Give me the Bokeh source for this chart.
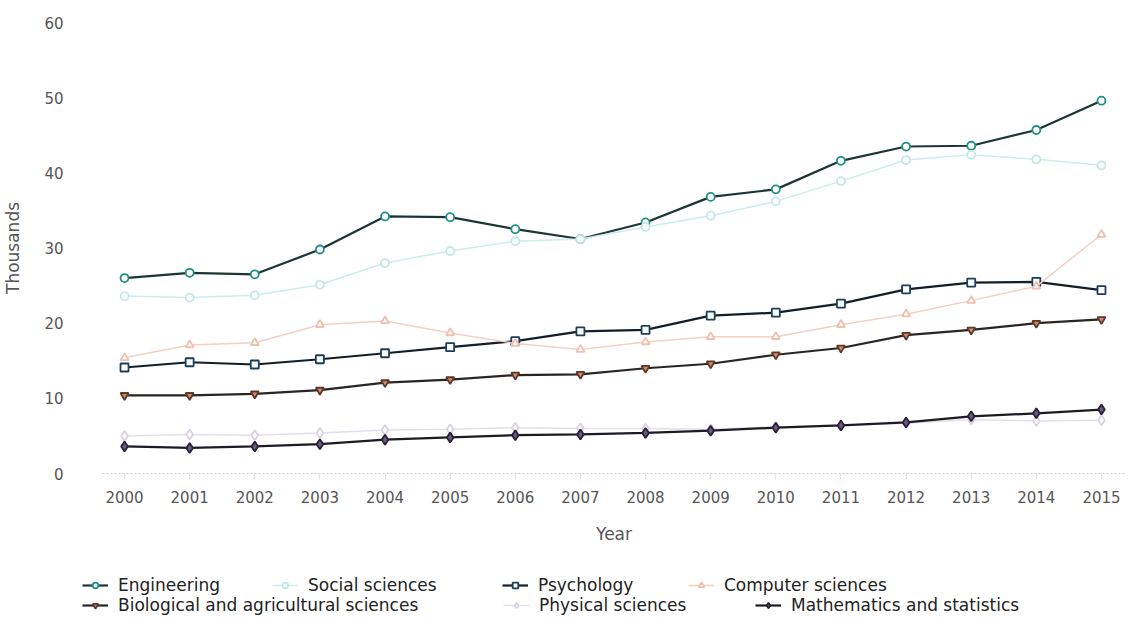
from bokeh.plotting import figure
from bokeh.models import Legend, LegendItem, FixedTicker, Range1d
from bokeh.layouts import column
from bokeh.embed import file_html
from bokeh.resources import INLINE

years = list(range(2000, 2016))

engineering = [26.0, 26.7, 26.5, 29.8, 34.2, 34.1, 32.5, 31.2, 33.4, 36.8, 37.8, 41.6, 43.5, 43.6, 45.7, 49.6]
social = [23.6, 23.4, 23.7, 25.1, 28.0, 29.6, 30.9, 31.2, 32.8, 34.3, 36.2, 38.9, 41.7, 42.4, 41.8, 41.0]
psychology = [14.1, 14.8, 14.5, 15.2, 16.0, 16.8, 17.6, 18.9, 19.1, 21.0, 21.4, 22.6, 24.5, 25.4, 25.5, 24.4]
computer = [15.4, 17.1, 17.4, 19.8, 20.3, 18.7, 17.3, 16.5, 17.5, 18.2, 18.2, 19.8, 21.2, 23.0, 24.9, 31.8]
biological = [10.4, 10.4, 10.6, 11.1, 12.1, 12.5, 13.1, 13.2, 14.0, 14.6, 15.8, 16.7, 18.4, 19.1, 20.0, 20.5]
physical = [5.0, 5.2, 5.1, 5.4, 5.8, 5.9, 6.1, 6.0, 6.0, 5.9, 6.2, 6.4, 6.7, 7.2, 7.0, 7.1]
mathematics = [3.6, 3.4, 3.6, 3.9, 4.5, 4.8, 5.1, 5.2, 5.4, 5.7, 6.1, 6.4, 6.8, 7.6, 8.0, 8.5]
y_ticks = [0, 10, 20, 30, 40, 50, 60]

FONT = "DejaVu Sans"
W = 1126

p = figure(width=W, height=551, output_backend="svg", toolbar_location=None,
           x_range=Range1d(1999.662, 2015.369), y_range=Range1d(0, 60),
           min_border_left=102, min_border_right=1, min_border_top=22, min_border_bottom=78)
p.outline_line_color = None
p.xgrid.visible = False
p.ygrid.visible = False
p.frame_align = False

# legend strip below the chart (its own figure, so the legend can start left of the plot frame)
pl = figure(width=W, height=66, output_backend="svg", toolbar_location=None,
            x_range=Range1d(-10, -9), y_range=Range1d(-10, -9),
            min_border_left=0, min_border_right=0, min_border_top=0, min_border_bottom=0)
pl.outline_line_color = None
pl.axis.visible = False
pl.grid.visible = False
pl.frame_align = False

# (label, values, line color, line width, marker, marker line color, marker fill, legend x, legend y)
series = [
    ("Engineering", engineering, "#1d3535", 2.2, "circle", "#1f8f8a", "white", 82, 22),
    ("Social sciences", social, "#cdeceb", 1.5, "circle", "#c2e8e6", "white", 272, 22),
    ("Psychology", psychology, "#141e28", 2.2, "square", "#1a3f5e", "white", 502, 22),
    ("Computer sciences", computer, "#f3cfc4", 1.5, "triangle", "#f0bfb0", "white", 688, 22),
    ("Biological and agricultural sciences", biological, "#2a2422", 2.2, "inverted_triangle", "#5a3a2a", "#d98a66", 82, 2),
    ("Physical sciences", physical, "#e4ddee", 1.5, "diamond", "#d8d0e6", "white", 503, 2),
    ("Mathematics and statistics", mathematics, "#1e1a24", 2.2, "diamond", "#2a2036", "#6a5a80", 755, 2),
]

for label, vals, lc, lw, mk, mlc, mfc, lx, ly in series:
    size = 10 if mk == "diamond" else 8
    p.line(years, vals, line_color=lc, line_width=lw)
    p.scatter(years, vals, marker=mk, size=size, line_color=mlc, fill_color=mfc, line_width=1.8)
    # same series in the legend strip (out of its view), used only for the legend glyphs
    r_line = pl.line(years, vals, line_color=lc, line_width=lw)
    r_mark = pl.scatter(years, vals, marker=mk, size=size, line_color=mlc, fill_color=mfc, line_width=1.8)
    leg = Legend(items=[LegendItem(label=label, renderers=[r_line, r_mark])],
                 location=(lx, ly), orientation="horizontal",
                 background_fill_alpha=0, border_line_alpha=0,
                 padding=0, margin=0, spacing=0,
                 glyph_width=26, glyph_height=14, label_standoff=10, label_height=20,
                 label_text_font=FONT, label_text_font_size="17px", label_text_color="#222222")
    pl.add_layout(leg, "center")

# x axis
p.xaxis.ticker = FixedTicker(ticks=years)
p.xaxis.axis_label = "Year"
p.xaxis.axis_label_text_font = FONT
p.xaxis.axis_label_text_font_size = "17px"
p.xaxis.axis_label_text_font_style = "normal"
p.xaxis.axis_label_text_color = "#555555"
p.xaxis.axis_label_standoff = 18
p.xaxis.major_label_text_font = FONT
p.xaxis.major_label_text_font_size = "15px"
p.xaxis.major_label_text_color = "#555555"
p.xaxis.major_label_standoff = 11
p.xaxis.axis_line_color = "#c8c8c8"
p.xaxis.axis_line_dash = "2 2"
p.xaxis.major_tick_line_color = "#e2e2e2"
p.xaxis.major_tick_out = 6
p.xaxis.major_tick_in = 0
p.xaxis.minor_tick_line_color = None

# y axis
p.yaxis.ticker = FixedTicker(ticks=y_ticks)
p.yaxis.axis_label = "Thousands"
p.yaxis.axis_label_text_font = FONT
p.yaxis.axis_label_text_font_size = "17px"
p.yaxis.axis_label_text_font_style = "normal"
p.yaxis.axis_label_text_color = "#555555"
p.yaxis.axis_label_standoff = 18
p.yaxis.major_label_text_font = FONT
p.yaxis.major_label_text_font_size = "15px"
p.yaxis.major_label_text_color = "#555555"
p.yaxis.major_label_standoff = 33
p.yaxis.axis_line_color = None
p.yaxis.major_tick_line_color = None
p.yaxis.minor_tick_line_color = None

layout = column(p, pl, spacing=0)
open("out.html", "w").write(file_html(layout, INLINE))
